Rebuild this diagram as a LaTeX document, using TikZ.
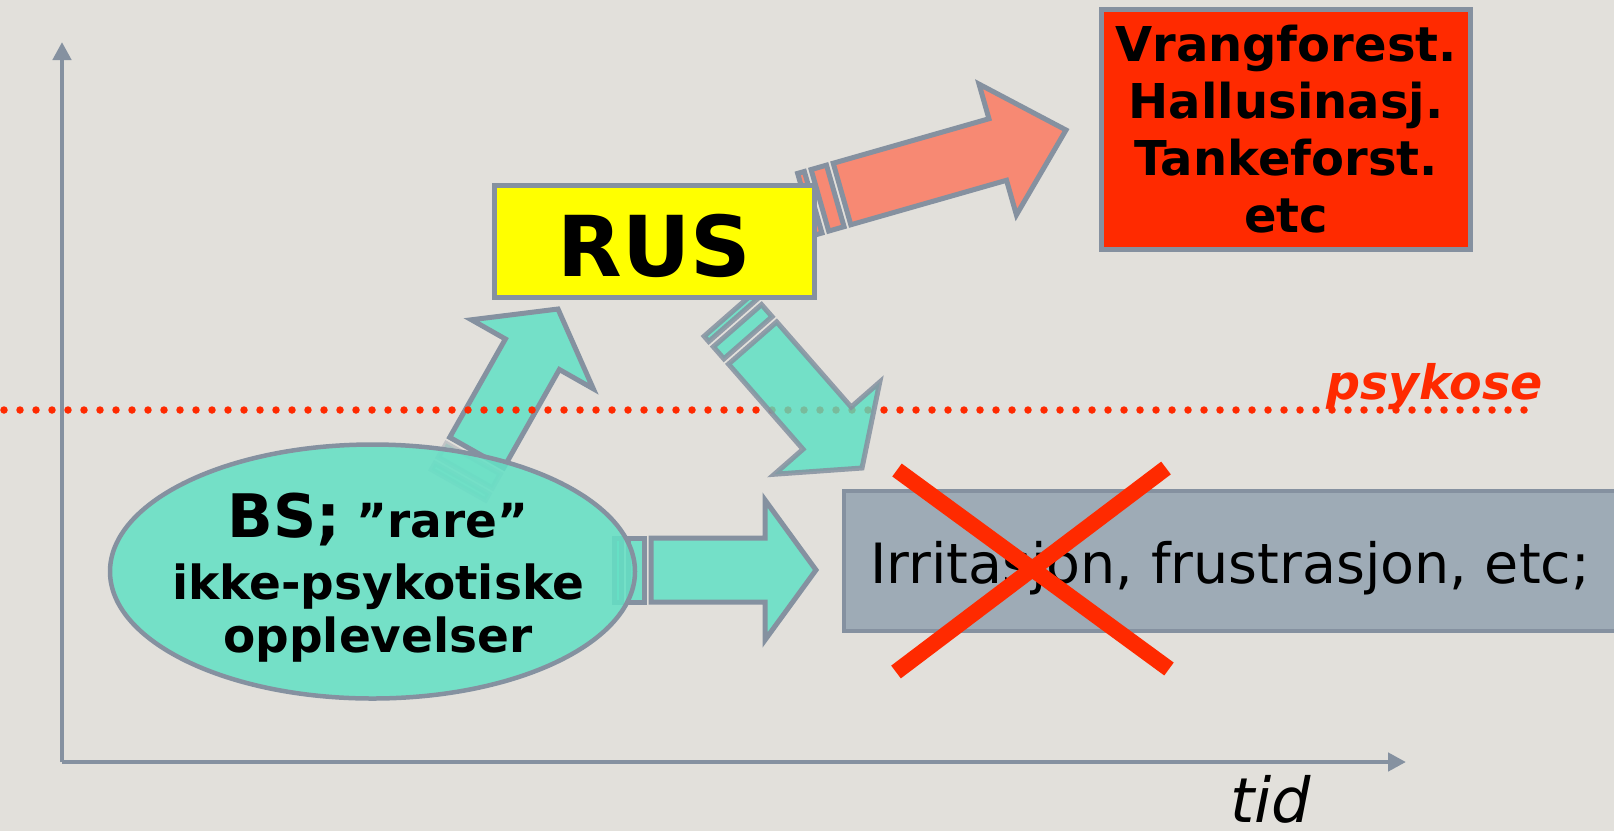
\documentclass[tikz,border=0pt]{standalone}
\usepackage{fontspec}
\setmainfont{DejaVu Sans}[BoldFont={DejaVu Sans Bold},ItalicFont={DejaVu Sans Oblique},BoldItalicFont={DejaVu Sans Bold Oblique}]
\usetikzlibrary{calc,arrows.meta,shapes.geometric}
\definecolor{bgcol}{RGB}{226,224,219}
\definecolor{edgecol}{RGB}{133,145,160}
\definecolor{tealcol}{RGB}{116,224,200}
\definecolor{tealdeep}{RGB}{88,224,195}
\definecolor{tealell}{RGB}{101,224,197}
\definecolor{salmoncol}{RGB}{247,137,115}
\definecolor{redcol}{RGB}{255,42,0}
\definecolor{yelcol}{RGB}{255,255,0}
\definecolor{boxgray}{RGB}{158,171,182}
% #1 tail, #2 tip, #3 shaft half width, #4 head half width, #5 head length, #6 style, #7 tail band style
\newcommand\blockarrow[7]{%
  \path[#6,#7] let \p1=($(#2)-(#1)$), \n1={atan2(\y1,\x1)} in
    [shift={(#1)},rotate=\n1]
    (-7,-#3) rectangle (-23,#3)
    (-30,-#3) rectangle (-37,#3);
  \path[#6] let \p1=($(#2)-(#1)$), \n1={atan2(\y1,\x1)}, \n2={veclen(\x1,\y1)} in
    [shift={(#1)},rotate=\n1]
    (0,-#3) -- ({\n2-#5},-#3) -- ({\n2-#5},-#4) -- (\n2,0) -- ({\n2-#5},#4) -- ({\n2-#5},#3) -- (0,#3) -- cycle;}
\begin{document}
\begin{tikzpicture}[x=1pt,y=-1pt,
  axisline/.style={draw=edgecol,line width=4.7pt,-{Triangle[length=18pt,width=18pt]}},
  tealarrow/.style={fill=tealcol,draw=edgecol,line width=5pt},
  downarrow/.style={fill=tealdeep,draw=edgecol,line width=5pt,fill opacity=0.8,draw opacity=0.85},
  salmonarrow/.style={fill=salmoncol,draw=edgecol,line width=5pt},
  fadedband/.style={opacity=0.35},
  plainband/.style={},
  dotline/.style={draw=redcol,line width=7.5pt,line cap=round,dash pattern=on 0pt off 16pt},
  crossline/.style={draw=redcol,line width=16pt},
  boxnode/.style={rectangle,draw=edgecol,line width=5pt,inner sep=0pt}]
\fill[bgcol] (0,0) rectangle (1614,831);
\useasboundingbox (0,0) rectangle (1614,831);
% axes
\coordinate (origin) at (62,762);
\coordinate (ytop) at (62,42);
\coordinate (xend) at (1406,762);
\draw[axisline] (origin) -- (ytop);
\draw[axisline] (origin) -- (xend);
% arrow end points
\coordinate (upT) at (476.7,452.6);
\coordinate (upP) at (558,309);
\coordinate (rtT) at (651,570);
\coordinate (rtP) at (816,570);
\coordinate (dnT) at (752.6,343);
\coordinate (dnP) at (862,468);
\coordinate (saT) at (842,194);
\coordinate (saP) at (1066,130);
\blockarrow{upT}{upP}{31}{70}{52}{tealarrow}{fadedband}
\blockarrow{rtT}{rtP}{32}{70}{51}{tealarrow}{plainband}
% ellipse
\node[ellipse,fill=tealell,fill opacity=0.88,draw=edgecol,line width=4.5pt,
  minimum width=525pt,minimum height=254pt,inner sep=0pt] (bs) at (372.5,571.5) {};
\node[align=center,font=\fontsize{47}{53}\selectfont\bfseries,inner sep=0pt] (bstext) at (378,577.2)
  {{\fontsize{60}{60}\selectfont BS;} ”rare”\\[9pt] ikke-psykotiske\\ opplevelser};
% dotted psykose line
\coordinate (dotL) at (4,410);
\coordinate (dotR) at (1530,410);
\draw[dotline] (dotL) -- (dotR);
\blockarrow{dnT}{dnP}{32}{70}{53}{downarrow}{plainband}
\blockarrow{saT}{saP}{32}{68}{71}{salmonarrow}{plainband}
% boxes
\node[boxnode,fill=yelcol,minimum width=320pt,minimum height=112pt,
  font=\fontsize{84}{84}\selectfont\bfseries,text height=69pt,text depth=0pt] (rus) at (654.5,241.5) {RUS};
\node[boxnode,fill=redcol,minimum width=369pt,minimum height=240pt,align=center,
  font=\fontsize{48}{57}\selectfont\bfseries] (sympt) at (1286,129.5)
  {Vrangforest.\\Hallusinasj.\\Tankeforst.\\etc};
\node[rectangle,draw=edgecol,line width=4pt,fill=boxgray,minimum width=773pt,minimum height=140pt,inner sep=0pt,
  font=\fontsize{55.5}{55.5}\selectfont,text height=46pt,text depth=0pt] (irr) at (1230,560.5)
  {Irritasjon, frustrasjon, etc;};
% red cross
\coordinate (xa1) at (897,470);
\coordinate (xa2) at (1169,669);
\coordinate (xb1) at (1166,468);
\coordinate (xb2) at (896,672);
\draw[crossline] (xa1) -- (xa2);
\draw[crossline] (xb1) -- (xb2);
% labels
\node[anchor=base west,inner sep=0pt,text=redcol,font=\fontsize{47.5}{47.5}\selectfont\bfseries\itshape] (psy) at (1326,399) {psykose};
\node[anchor=base west,inner sep=0pt,font=\fontsize{62}{62}\selectfont\itshape] (tid) at (1230,822) {tid};
\end{tikzpicture}
\end{document}
